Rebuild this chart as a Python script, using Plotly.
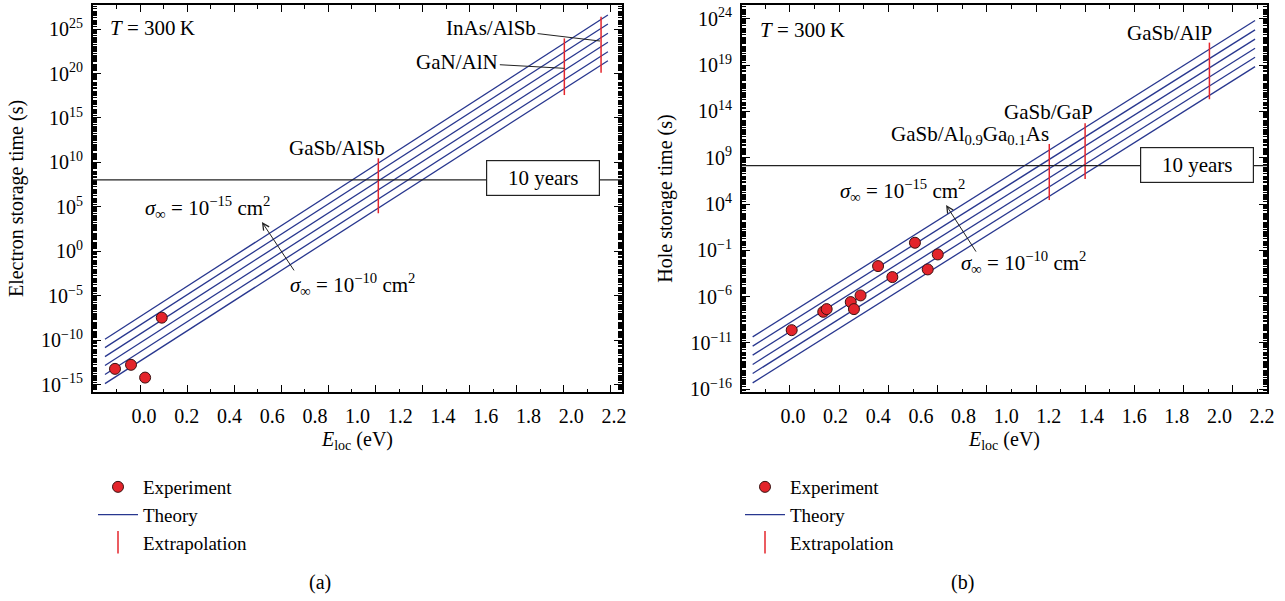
import math
import plotly.graph_objects as go

FONT = "Liberation Serif"
NAVY = "#28378f"
RED = "#e4262d"
PT_RED = "#e3242b"

# ---------------- data: (a) electrons ----------------
exp_a_E = [-0.136, -0.061, 0.005, 0.083]
exp_a_t = [6.3e-14, 1.8e-13, 6.6e-15, 3.6e-8]
theory_a_E = [-0.183, 2.172]
theory_a_start = [1.35e-10, 1.55e-11, 1.5e-12, 1.5e-13, 1.45e-14, 1.4e-15]
theory_a_end = [3.7e26, 3.6e25, 3.3e24, 3.2e23, 2.8e22, 2.75e21]
extrap_a_names = ["GaSb/AlSb", "GaN/AlN", "InAs/AlSb"]
extrap_a_E = [1.097, 1.968, 2.140]
extrap_a_top = [2.95e10, 8.9e23, 2.4e26]
extrap_a_bottom = [1.95e4, 3.8e17, 1.23e20]
ten_years_a = 1.1e8

# ---------------- data: (b) holes ----------------
exp_b_E = [-0.006, 0.142, 0.158, 0.271, 0.286, 0.317, 0.399, 0.466, 0.572, 0.632, 0.679]
exp_b_t = [2.4e-10, 2.3e-8, 4.5e-8, 2.6e-7, 4.5e-8, 1.35e-6, 2.0e-3, 1.3e-4, 0.66, 8.7e-4, 0.036]
theory_b_E = [-0.189, 2.167]
theory_b_start = [4.5e-11, 4.5e-12, 4.8e-13, 4.7e-14, 5.0e-15, 4.8e-16]
theory_b_end = [6.6e23, 6.5e22, 6.5e21, 6.8e20, 7.2e19, 6.9e18]
extrap_b_names = ["GaSb/Al<sub>0.9</sub>Ga<sub>0.1</sub>As", "GaSb/GaP", "GaSb/AlP"]
extrap_b_E = [1.202, 1.370, 1.953]
extrap_b_top = [3.1e10, 5.2e12, 2.75e21]
extrap_b_bottom = [2.7e4, 5.0e6, 2.1e15]
ten_years_b = 1.4e8

# tick labels
x_ticks = [0.0, 0.2, 0.4, 0.6, 0.8, 1.0, 1.2, 1.4, 1.6, 1.8, 2.0, 2.2]
y_exp_a = [-15, -10, -5, 0, 5, 10, 15, 20, 25]
y_exp_b = [-16, -11, -6, -1, 4, 9, 14, 19, 24]

fig = go.Figure()


def add_panel(xa, ya, leg, exp_E, exp_t, th_E, th_s, th_e, ex_E, ex_top, ex_bot):
    for i in range(len(th_s)):
        fig.add_trace(go.Scatter(
            x=th_E, y=[th_s[i], th_e[i]], mode="lines",
            line=dict(color=NAVY, width=1.3), name="Theory",
            legendgroup="th" + leg, showlegend=(i == 0), legend=leg, legendrank=2,
            xaxis=xa, yaxis=ya, hoverinfo="skip"))
    xs, ys = [], []
    for e, t, b in zip(ex_E, ex_top, ex_bot):
        xs += [e, e, None]
        ys += [t, b, None]
    fig.add_trace(go.Scatter(x=xs, y=ys, mode="lines", line=dict(color=RED, width=1.5),
                             showlegend=False, xaxis=xa, yaxis=ya, hoverinfo="skip"))
    fig.add_trace(go.Scatter(x=[None], y=[None], mode="markers", name="Extrapolation",
                             marker=dict(symbol="line-ns-open", size=18, color=RED,
                                         line=dict(color=RED, width=1.5)),
                             legend=leg, legendrank=3, xaxis=xa, yaxis=ya))
    fig.add_trace(go.Scatter(
        x=exp_E, y=exp_t, mode="markers", name="Experiment",
        marker=dict(color=PT_RED, size=11, line=dict(color="#3a1212", width=1)),
        legend=leg, legendrank=1, xaxis=xa, yaxis=ya))


add_panel("x", "y", "legend", exp_a_E, exp_a_t, theory_a_E, theory_a_start, theory_a_end,
          extrap_a_E, extrap_a_top, extrap_a_bottom)
add_panel("x2", "y2", "legend2", exp_b_E, exp_b_t, theory_b_E, theory_b_start, theory_b_end,
          extrap_b_E, extrap_b_top, extrap_b_bottom)
# placeholders so that tick-overlay axes are drawn
fig.add_trace(go.Scatter(x=[None], y=[None], xaxis="x3", yaxis="y", showlegend=False))
fig.add_trace(go.Scatter(x=[None], y=[None], xaxis="x4", yaxis="y2", showlegend=False))

tickfont = dict(family=FONT, size=20, color="black")
titlefont = dict(family=FONT, size=20, color="black")
annfont = dict(family=FONT, size=21, color="black")


def sup(n):
    return "10<sup>%s</sup>" % (str(n).replace("-", "\u2212"))


def minor_vals(lo, hi):
    v = []
    for n in range(lo, hi):
        for k in range(1, 10):
            v.append(k * 10.0 ** n)
    return v


xrange_a = [-0.239, 2.238]
xrange_b = [-0.239, 2.223]
yrange_a = [-15.8, 27.7]
yrange_b = [-16.3, 25.5]

dom_a = [93 / 1285, 622 / 1285]
dom_b = [742 / 1285, 1267 / 1285]
dom_y = [1 - 392 / 601, 1 - 5 / 601]


def xlab_axis(dom, rng, anchor):
    return dict(domain=dom, anchor=anchor, range=rng, tickmode="array", tickvals=x_ticks,
                ticktext=["%.1f" % v for v in x_ticks], ticks="", showline=True,
                linecolor="black", linewidth=2, mirror=True, showgrid=False, zeroline=False,
                tickfont=tickfont, ticklabelstandoff=5, automargin=False,
                title=dict(text="<i>E</i><sub>loc</sub> (eV)", font=titlefont, standoff=6))


def xtick_axis(rng, over, anchor, t0, dt):
    return dict(overlaying=over, anchor=anchor, range=rng, tickmode="linear", tick0=t0,
                dtick=dt, ticks="inside", ticklen=7, tickwidth=1.3, tickcolor="black",
                showticklabels=False, showline=True, linecolor="black", linewidth=2,
                mirror="ticks", showgrid=False, zeroline=False, automargin=False,
                minor=dict(ticks="inside", ticklen=3.5, tickwidth=1.2, tickcolor="black",
                           tick0=t0, dtick=dt / 2, showgrid=False))


def y_axis(dom, rng, exps, anchor, title):
    return dict(domain=dom, anchor=anchor, type="log", range=rng, tickmode="array",
                tickvals=[10.0 ** e for e in exps], ticktext=[sup(e) for e in exps],
                ticks="inside", ticklen=8, tickwidth=1.3, tickcolor="black",
                showline=True, linecolor="black", linewidth=2, mirror="ticks",
                showgrid=False, zeroline=False, tickfont=tickfont, ticklabelstandoff=4,
                automargin=False,
                minor=dict(tickmode="array", tickvals=minor_vals(int(math.floor(rng[0])) - 1,
                                                                 int(math.ceil(rng[1])) + 1),
                           ticks="inside", ticklen=4, tickwidth=1, tickcolor="black",
                           showgrid=False),
                title=dict(text=title, font=titlefont, standoff=12))


annotations = []
shapes = []


def text_ann(x, y, txt, xref, yref, **kw):
    d = dict(x=x, y=y, xref=xref, yref=yref, text=txt, showarrow=False, font=annfont,
             xanchor="center", yanchor="middle")
    d.update(kw)
    annotations.append(d)


def sigma(e):
    return "<i>σ</i><sub>∞</sub> = 10<sup>\u2212%d</sup> cm<sup>2</sup>" % e


for xr, yr, ten, box_x, box_y in (("x", "y", ten_years_a, 1.868, 8.26),
                                  ("x2", "y2", ten_years_b, 1.895, 8.22)):
    shapes.append(dict(type="line", xref=xr + " domain", yref=yr, x0=0, x1=1,
                       y0=ten, y1=ten, line=dict(color="#222222", width=1.2)))
    text_ann(box_x, box_y, "10 years", xr, yr, bgcolor="white", bordercolor="#222222",
             borderwidth=1.2, width=112, height=34, borderpad=0)

# T labels
text_ann(0.028, 0.94, "<i>T</i> = 300\u2009K", "x domain", "y domain", xanchor="left")
text_ann(0.030, 0.935, "<i>T</i> = 300\u2009K", "x2 domain", "y2 domain", xanchor="left")

# panel (a) labels
text_ann(0.904, 11.63, extrap_a_names[0], "x", "y")
annotations.append(dict(x=1.968, y=20.58, xref="x", yref="y", text=extrap_a_names[1],
                        showarrow=True, arrowhead=0, arrowwidth=1, arrowcolor="#222",
                        ax=-107, ay=-6, font=annfont))
annotations.append(dict(x=2.135, y=23.65, xref="x", yref="y", text=extrap_a_names[2],
                        showarrow=True, arrowhead=0, arrowwidth=1, arrowcolor="#222",
                        ax=-109, ay=-13, font=annfont))
text_ann(0.295, 4.89, sigma(15), "x", "y")
text_ann(0.978, -3.76, sigma(10), "x", "y")
annotations.append(dict(x=0.552, y=3.31, ax=0.707, ay=-2.30, xref="x", yref="y",
                        axref="x", ayref="y", text="", showarrow=True, arrowhead=5,
                        arrowsize=1.3, arrowwidth=1, arrowcolor="#222"))

# panel (b) labels
text_ann(0.830, 11.46, extrap_b_names[0], "x2", "y2")
text_ann(1.196, 13.95, extrap_b_names[1], "x2", "y2")
text_ann(1.764, 22.49, extrap_b_names[2], "x2", "y2")
text_ann(0.516, 5.51, sigma(15), "x2", "y2")
text_ann(1.079, -2.27, sigma(10), "x2", "y2")
annotations.append(dict(x=0.718, y=3.89, ax=0.863, ay=-1.30, xref="x2", yref="y2",
                        axref="x2", ayref="y2", text="", showarrow=True, arrowhead=5,
                        arrowsize=1.3, arrowwidth=1, arrowcolor="#222"))

# panel letters
text_ann(320 / 1285, 1 - 582 / 601, "(a)", "paper", "paper", font=titlefont)
text_ann(962 / 1285, 1 - 582 / 601, "(b)", "paper", "paper", font=titlefont)

leg_common = dict(xanchor="left", yanchor="top", font=dict(family=FONT, size=19, color="black"),
                  bgcolor="rgba(0,0,0,0)", itemwidth=40, tracegroupgap=0, traceorder="normal")

fig.update_layout(
    template="none",
    width=1285, height=601, margin=dict(l=0, r=0, t=0, b=0, autoexpand=False),
    paper_bgcolor="white", plot_bgcolor="white",
    font=dict(family=FONT, size=20, color="black"),
    xaxis=xlab_axis(dom_a, xrange_a, "y"),
    xaxis2=xlab_axis(dom_b, xrange_b, "y2"),
    xaxis3=xtick_axis(xrange_a, "x", "y", -0.0187, 0.2205),
    xaxis4=xtick_axis(xrange_b, "x2", "y2", -0.014, 0.2308),
    yaxis=y_axis(dom_y, yrange_a, y_exp_a, "x", "Electron storage time (s)"),
    yaxis2=y_axis(dom_y, yrange_b, y_exp_b, "x2", "Hole storage time (s)"),
    legend=dict(x=93 / 1285, y=1 - 468 / 601, **leg_common),
    legend2=dict(x=740 / 1285, y=1 - 468 / 601, **leg_common),
    annotations=annotations, shapes=shapes, showlegend=True,
)

fig.write_html("out.html", config={"displayModeBar": False},
               post_script="document.body.style.margin='0px';"
                           "document.body.style.overflow='hidden';")
